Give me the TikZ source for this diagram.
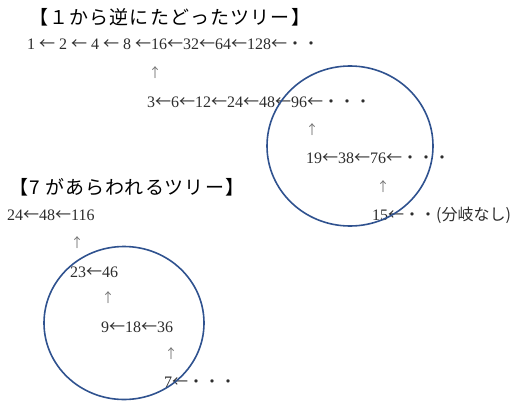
\documentclass[tikz,border=0pt]{standalone}
\usepackage{fontspec}
\setmainfont{Liberation Serif}
\newfontfamily\jpfont{Noto Sans CJK JP}
\newfontfamily\jptitle[LetterSpace=6]{Noto Sans CJK JP}
\usepackage{xcolor}
\usetikzlibrary{shapes.geometric}
\definecolor{ringblue}{RGB}{47,82,143}
\definecolor{inkgray}{RGB}{45,45,45}
\newcommand{\larr}{{\jpfont ←}}
\newcommand{\jdot}{{\jpfont ・}}

\begin{document}
\begin{tikzpicture}[x=1pt, y=-1pt,
        title/.style={anchor=west, inner sep=0pt, text=black,
                      font=\jptitle\fontsize{19}{21}\selectfont},
        chain/.style={anchor=base west, inner sep=0pt, text=inkgray,
                      font=\fontsize{16}{18}\selectfont},
        uparr/.style={inner sep=0pt, text=black!55,
                      font=\jpfont\fontsize{13}{14}\selectfont},
        ring/.style={ellipse, draw=ringblue, line width=1.6pt, inner sep=0pt}
    ]
        \useasboundingbox (0,0) rectangle (513,401);

        %--- Tree from 1 ---
        \node[title] (t1) at (29,17) {【１から逆にたどったツリー】};
        \node[chain] (r1) at (27,50) {1 \larr{} 2 \larr{} 4 \larr{} 8 \larr16\larr32\larr64\larr128\larr\jdot\jdot};
        \node[uparr] (u1) at (155,73) {↑};
        \node[chain] (r2) at (147,107) {3\larr6\larr12\larr24\larr48\larr96\larr\jdot\jdot\jdot};
        \node[uparr] (u2) at (312,130) {↑};
        \node[chain] (r3) at (306,163) {19\larr38\larr76\larr\jdot\jdot\jdot};
        \node[uparr] (u3) at (383,187) {↑};
        \node[chain] (r4) at (372,220) {15\larr\jdot\jdot{\jpfont (分岐なし)}};

        %--- Tree where 7 appears ---
        \node[title] (t2) at (9,187) {【7 があらわれるツリー】};
        \node[chain] (q1) at (7,220) {24\larr48\larr116};
        \node[uparr] (v1) at (77,243) {↑};
        \node[chain] (q2) at (70,277) {23\larr46};
        \node[uparr] (v2) at (108,298) {↑};
        \node[chain] (q3) at (101,332) {9\larr18\larr36};
        \node[uparr] (v3) at (171,354) {↑};
        \node[chain] (q4) at (164,387) {7\larr\jdot\jdot\jdot};

        %--- Rings ---
        \node[ring, minimum width=166pt, minimum height=160pt] (ring1) at (350,146) {};
        \node[ring, minimum width=160pt, minimum height=153pt] (ring2) at (124,323) {};
    \end{tikzpicture}
\end{document}
